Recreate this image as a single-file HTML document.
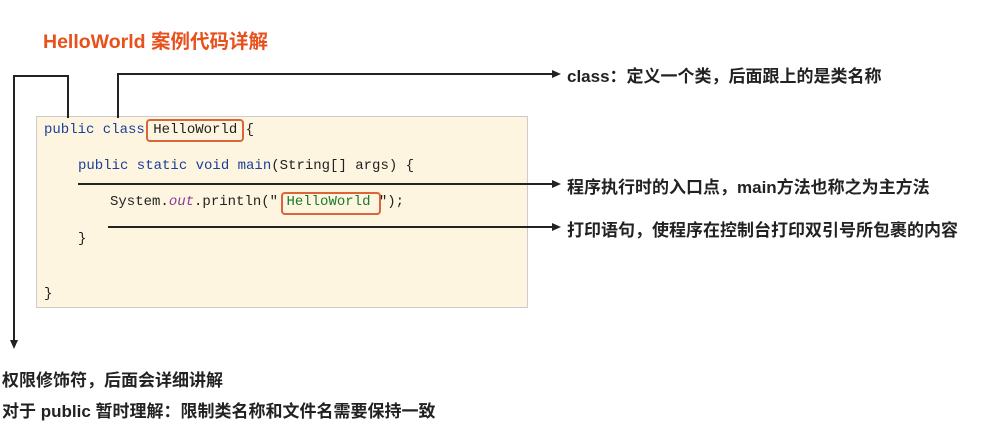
<!DOCTYPE html>
<html><head><meta charset="utf-8"><style>
body{margin:0;width:987px;height:430px;background:#fff;position:relative;overflow:hidden;font-family:"Liberation Sans","Noto Sans CJK SC",sans-serif}
.t{position:absolute;font-weight:bold;white-space:nowrap}
.code{position:absolute;font-family:"Liberation Mono",monospace;font-size:14px;white-space:pre;color:#222}
.k{color:#1a3f9c}
.box{position:absolute;border:2px solid #d9653a;border-radius:4px}
</style></head><body>
<div class="t" style="left:43px;top:25px;font-size:19.5px;color:#e8501c">HelloWorld 案例代码详解</div>
<div style="position:absolute;left:36px;top:116px;width:490px;height:190px;background:#fdf5e0;border:1px solid #ccc"></div>
<div class="code" style="left:44px;top:122px"><span class="k">public class</span> HelloWorld {</div>
<div class="code" style="left:78px;top:158px"><span class="k">public static void main</span>(String[] args) {</div>
<div class="code" style="left:110px;top:194px">System.<i style="color:#8a3b9e">out</i>.println(" <span style="color:#1a7a2a">HelloWorld</span> ");</div>
<div class="code" style="left:78px;top:231px">}</div>
<div class="code" style="left:44px;top:286px">}</div>
<div class="box" style="left:146px;top:119px;width:94px;height:19px"></div>
<div class="box" style="left:281px;top:192px;width:96px;height:19px"></div>
<svg width="987" height="430" style="position:absolute;left:0;top:0" fill="none" stroke="#222" stroke-width="2">
<polyline points="68,118 68,76 14,76 14,342"/>
<polygon points="10,340 18,340 14,349" fill="#222" stroke="none"/>
<polyline points="118,118 118,74 553,74"/>
<polygon points="552,70 561,74 552,78" fill="#222" stroke="none"/>
<line x1="78" y1="184" x2="553" y2="184"/>
<polygon points="552,180 561,184 552,188" fill="#222" stroke="none"/>
<line x1="108" y1="227" x2="553" y2="227"/>
<polygon points="552,223 561,227 552,231" fill="#222" stroke="none"/>
</svg>
<div class="t" style="left:567px;top:62px;font-size:17px;color:#222">class：定义一个类，后面跟上的是类名称</div>
<div class="t" style="left:567px;top:173px;font-size:17px;color:#222">程序执行时的入口点，main方法也称之为主方法</div>
<div class="t" style="left:567px;top:216px;font-size:17px;color:#222">打印语句，使程序在控制台打印双引号所包裹的内容</div>
<div class="t" style="left:2px;top:366px;font-size:17px;color:#222">权限修饰符，后面会详细讲解</div>
<div class="t" style="left:2px;top:397px;font-size:17px;color:#222">对于 public 暂时理解：限制类名称和文件名需要保持一致</div>
</body></html>
